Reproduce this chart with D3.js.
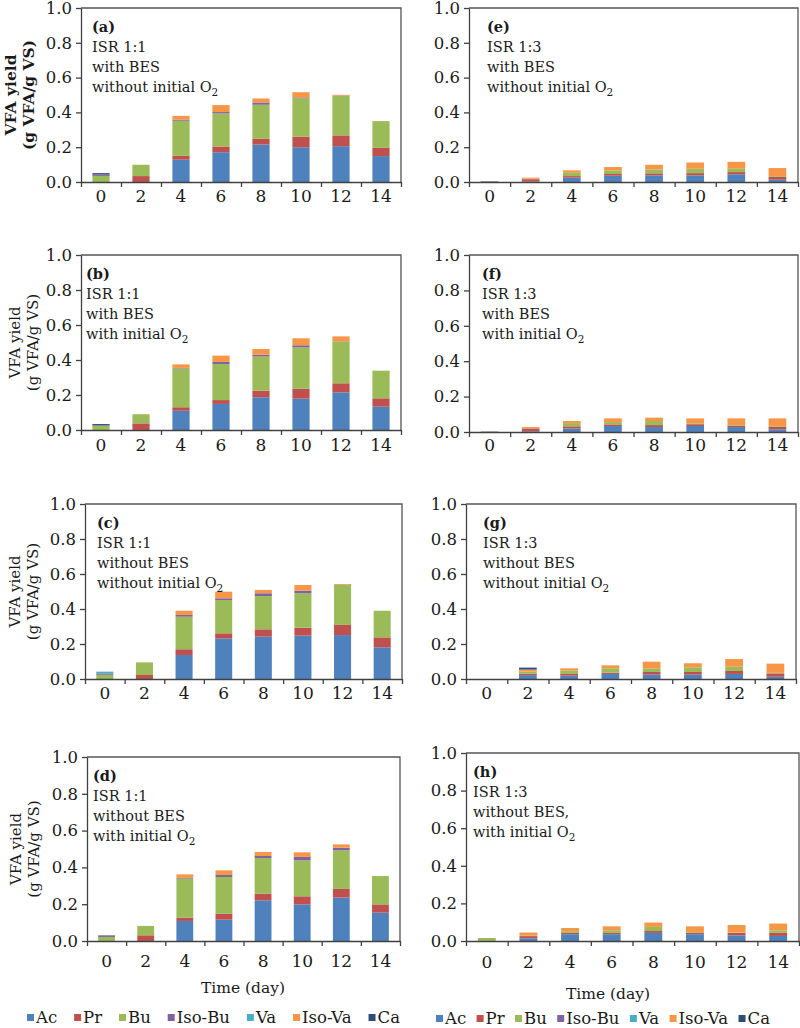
<!DOCTYPE html>
<html><head><meta charset="utf-8">
<script src="https://cdn.jsdelivr.net/npm/d3@7"></script>
<style>body{margin:0;background:#fff}svg{display:block}</style>
</head><body>
<svg id="chart" width="800" height="1028"></svg>
<script>
// ---------- data ----------
const days = [0, 2, 4, 6, 8, 10, 12, 14];
const seriesNames = ["Ac", "Pr", "Bu", "Iso-Bu", "Va", "Iso-Va", "Ca"];
const yTickValues = [0, 0.2, 0.4, 0.6, 0.8, 1.0];
const panelTags = ["(a)", "(b)", "(c)", "(d)", "(e)", "(f)", "(g)", "(h)"];
const panelLines = [
  ["ISR 1:1", "with BES", "without initial O"],
  ["ISR 1:1", "with BES", "with initial O"],
  ["ISR 1:1", "without BES", "without initial O"],
  ["ISR 1:1", "without BES", "with initial O"],
  ["ISR 1:3", "with BES", "without initial O"],
  ["ISR 1:3", "with BES", "with initial O"],
  ["ISR 1:3", "without BES", "without initial O"],
  ["ISR 1:3", "without BES,", "with initial O"]
];
// rows: Ac, Pr, Bu, Iso-Bu, Va, Iso-Va, Ca ; columns: days
const valuesA = [
  [0, 0, 0.128, 0.171, 0.215, 0.200, 0.206, 0.149],
  [0, 0.034, 0.022, 0.033, 0.033, 0.061, 0.062, 0.047],
  [0.035, 0.065, 0.202, 0.190, 0.196, 0.221, 0.227, 0.154],
  [0.008, 0, 0.006, 0.008, 0.013, 0.004, 0.002, 0],
  [0, 0, 0, 0, 0, 0, 0, 0],
  [0, 0, 0.022, 0.040, 0.023, 0.030, 0.004, 0],
  [0.008, 0, 0, 0, 0, 0, 0, 0]
];
const valuesB = [
  [0, 0, 0.110, 0.149, 0.187, 0.179, 0.215, 0.133],
  [0, 0.038, 0.020, 0.022, 0.038, 0.057, 0.052, 0.048],
  [0.024, 0.052, 0.222, 0.206, 0.195, 0.236, 0.238, 0.158],
  [0.004, 0, 0.003, 0.012, 0.010, 0.012, 0.002, 0],
  [0, 0, 0, 0, 0, 0, 0, 0],
  [0, 0, 0.020, 0.036, 0.033, 0.040, 0.028, 0],
  [0.006, 0, 0, 0, 0, 0, 0, 0]
];
const valuesC = [
  [0, 0, 0.137, 0.232, 0.242, 0.248, 0.251, 0.181],
  [0, 0.023, 0.033, 0.029, 0.042, 0.045, 0.058, 0.057],
  [0.024, 0.072, 0.186, 0.190, 0.190, 0.197, 0.228, 0.152],
  [0.008, 0, 0.010, 0.010, 0.016, 0.015, 0.002, 0],
  [0.010, 0, 0, 0, 0, 0, 0, 0],
  [0, 0, 0.024, 0.038, 0.019, 0.032, 0.004, 0],
  [0, 0, 0, 0, 0, 0, 0, 0]
];
const valuesD = [
  [0, 0, 0.109, 0.116, 0.221, 0.199, 0.236, 0.154],
  [0, 0.031, 0.018, 0.033, 0.036, 0.044, 0.047, 0.045],
  [0.022, 0.051, 0.212, 0.199, 0.194, 0.195, 0.210, 0.154],
  [0.009, 0, 0.004, 0.011, 0.011, 0.019, 0.014, 0],
  [0, 0, 0, 0, 0, 0, 0, 0],
  [0, 0, 0.019, 0.025, 0.022, 0.025, 0.018, 0],
  [0, 0, 0, 0, 0, 0, 0, 0]
];
const valuesE = [
  [0, 0.003, 0.025, 0.036, 0.038, 0.038, 0.044, 0.013],
  [0, 0.013, 0.009, 0.010, 0.012, 0.013, 0.013, 0.016],
  [0, 0.003, 0.019, 0.021, 0.022, 0.025, 0.019, 0.005],
  [0, 0, 0, 0, 0, 0, 0, 0],
  [0, 0, 0, 0, 0, 0, 0, 0],
  [0, 0.006, 0.014, 0.019, 0.027, 0.036, 0.040, 0.046],
  [0.003, 0, 0, 0, 0, 0, 0, 0]
];
const valuesF = [
  [0, 0.004, 0.020, 0.034, 0.028, 0.034, 0.028, 0.015],
  [0, 0.016, 0.012, 0.009, 0.011, 0.010, 0.007, 0.015],
  [0, 0, 0.018, 0.013, 0.023, 0.005, 0.004, 0.004],
  [0, 0, 0, 0, 0, 0, 0, 0],
  [0, 0, 0, 0, 0, 0, 0, 0],
  [0, 0.008, 0.012, 0.021, 0.019, 0.028, 0.038, 0.043],
  [0.002, 0, 0, 0, 0, 0, 0, 0]
];
const valuesG = [
  [0, 0.022, 0.019, 0.029, 0.025, 0.025, 0.029, 0.013],
  [0, 0.008, 0.010, 0.007, 0.015, 0.015, 0.017, 0.019],
  [0, 0.012, 0.019, 0.025, 0.021, 0.027, 0.024, 0.003],
  [0, 0, 0, 0, 0, 0, 0, 0],
  [0, 0, 0, 0, 0, 0, 0, 0],
  [0, 0.012, 0.013, 0.017, 0.038, 0.023, 0.044, 0.053],
  [0, 0.011, 0, 0, 0, 0, 0, 0]
];
const valuesH = [
  [0, 0.014, 0.036, 0.036, 0.043, 0.036, 0.030, 0.027],
  [0, 0.012, 0.007, 0.007, 0.010, 0.008, 0.013, 0.017],
  [0.016, 0.004, 0.009, 0.014, 0.022, 0.004, 0.003, 0.013],
  [0, 0, 0, 0, 0, 0, 0, 0],
  [0, 0, 0, 0, 0, 0, 0, 0],
  [0, 0.015, 0.017, 0.021, 0.023, 0.030, 0.039, 0.036],
  [0, 0, 0, 0, 0, 0, 0, 0]
];
const panelValues = [valuesA, valuesB, valuesC, valuesD, valuesE, valuesF, valuesG, valuesH];

// ---------- styles / layout ----------
const seriesColors = ["#4F81BD", "#C0504D", "#9BBB59", "#8064A2", "#4BACC6", "#F79646", "#2C4D75"];
const FONT = "'DejaVu Serif', serif";
const TXT = "#1a1a1a";
const AXC = "#404040";
const layout = [
  {x0: 81, x1: 401, y0: 8,   y1: 182, lab: 8,  tx: 92,  title: true, bold: true},
  {x0: 81, x1: 401, y0: 255, y1: 430, lab: 9,  tx: 86,  title: true},
  {x0: 85, x1: 402, y0: 504, y1: 679, lab: 8,  tx: 97,  title: true},
  {x0: 87, x1: 400, y0: 757, y1: 941, lab: 14, tx: 93,  title: true},
  {x0: 469, x1: 798, y0: 8,   y1: 182, lab: 8,  tx: 487},
  {x0: 469, x1: 798, y0: 255, y1: 432, lab: 7,  tx: 482},
  {x0: 466, x1: 796, y0: 504, y1: 679, lab: 8,  tx: 483},
  {x0: 466, x1: 799, y0: 753, y1: 941, lab: 15, tx: 473}
];

const svg = d3.select("#chart");

function drawPanel(i) {
  const p = layout[i];
  const vals = panelValues[i];
  const g = svg.append("g");
  const x = d3.scaleBand().domain(days).range([p.x0, p.x1]).paddingInner(0.57).paddingOuter(0.285);
  const xb = d3.scaleLinear().domain([0, days.length]).range([p.x0, p.x1]);
  const y = d3.scaleLinear().domain([0, 1]).range([p.y1, p.y0]);

  const rows = days.map((d, j) => {
    const r = {day: d};
    seriesNames.forEach((s, k) => r[s] = vals[k][j]);
    return r;
  });
  const stacked = d3.stack().keys(seriesNames)(rows);
  g.append("g").selectAll("g").data(stacked).join("g")
    .attr("fill", (d, k) => seriesColors[k])
    .selectAll("rect").data(d => d).join("rect")
    .attr("x", d => x(d.data.day))
    .attr("width", x.bandwidth())
    .attr("y", d => y(d[1]))
    .attr("height", d => Math.max(0, y(d[0]) - y(d[1])));

  // frame (top and right)
  g.append("path")
    .attr("d", `M${p.x0},${p.y0}H${p.x1}V${p.y1}`)
    .attr("fill", "none").attr("stroke", "#555").attr("stroke-width", 1.3);

  // y axis
  const ya = g.append("g").attr("transform", `translate(${p.x0},0)`)
    .call(d3.axisLeft(y).tickValues(yTickValues).tickFormat(d3.format(".1f")).tickSize(5).tickSizeOuter(0).tickPadding(4));
  ya.attr("font-family", FONT).attr("font-size", 16.5);
  ya.selectAll("text").attr("fill", TXT);
  ya.selectAll("line, path").attr("stroke", AXC).attr("stroke-width", 1.3);

  // x axis boundary ticks
  const xa = g.append("g").attr("transform", `translate(0,${p.y1})`)
    .call(d3.axisBottom(xb).tickValues(d3.range(days.length + 1)).tickFormat("").tickSize(5).tickSizeOuter(0));
  xa.selectAll("line, path").attr("stroke", AXC).attr("stroke-width", 1.3);
  // x labels
  const xl = g.append("g").attr("transform", `translate(0,${p.y1})`)
    .call(d3.axisBottom(x).tickSize(0).tickPadding(p.lab));
  xl.attr("font-family", FONT).attr("font-size", 17);
  xl.select(".domain").remove();
  xl.selectAll("text").attr("fill", TXT);

  // annotation
  const t = g.append("text").attr("font-family", FONT).attr("font-size", 14.5).attr("fill", TXT);
  t.append("tspan").attr("x", p.tx).attr("y", p.y0 + 24).attr("font-weight", "bold").text(panelTags[i]);
  panelLines[i].forEach((ln, k) => {
    t.append("tspan").attr("x", p.tx).attr("y", p.y0 + 44 + 20 * k).text(ln);
    if (k === 2) {
      t.append("tspan").attr("dy", 4).attr("font-size", 10.5).text("2");
    }
  });

  // y title
  if (p.title) {
    const cy = (p.y0 + p.y1) / 2;
    const bx = p.bold ? 16 : (i === 3 ? 21 : 20);
    const tt = g.append("text").attr("font-family", FONT).attr("fill", TXT)
      .attr("font-size", p.bold ? 15.5 : 15).attr("font-weight", p.bold ? "bold" : "normal")
      .attr("text-anchor", "middle")
      .attr("transform", `translate(${bx},${cy}) rotate(-90)`);
    tt.append("tspan").attr("x", 0).attr("y", 0).text("VFA yield");
    tt.append("tspan").attr("x", 0).attr("y", 18).text("(g VFA/g VS)");
  }
}

for (let i = 0; i < 8; i++) drawPanel(i);

// x titles
svg.append("text").attr("x", 243).attr("y", 993).attr("text-anchor", "middle")
  .attr("font-family", FONT).attr("font-size", 15.5).attr("fill", TXT).text("Time (day)");
svg.append("text").attr("x", 608).attr("y", 999).attr("text-anchor", "middle")
  .attr("font-family", FONT).attr("font-size", 15.5).attr("fill", TXT).text("Time (day)");

// legends
function legend(xStart, xEnd, baseline, sqGap) {
  const g = svg.append("g").attr("font-family", FONT).attr("font-size", 16.5).attr("fill", TXT);
  const items = g.selectAll("g").data(seriesNames).join("g");
  items.append("rect").attr("width", 7).attr("height", 7).attr("fill", (d, k) => seriesColors[k]);
  items.append("text").text(d => d);
  const widths = [];
  items.select("text").each(function () { widths.push(this.getComputedTextLength()); });
  const itemW = widths.map(w => 7 + sqGap + w);
  const gap = (xEnd - xStart - d3.sum(itemW)) / (seriesNames.length - 1);
  let cx = xStart;
  items.each(function (d, k) {
    const it = d3.select(this);
    it.select("rect").attr("x", cx).attr("y", baseline - 9);
    it.select("text").attr("x", cx + 7 + sqGap).attr("y", baseline);
    cx += itemW[k] + gap;
  });
}
legend(27, 400, 1023, 2);
legend(436, 770, 1024, 2);
</script>
</body></html>
